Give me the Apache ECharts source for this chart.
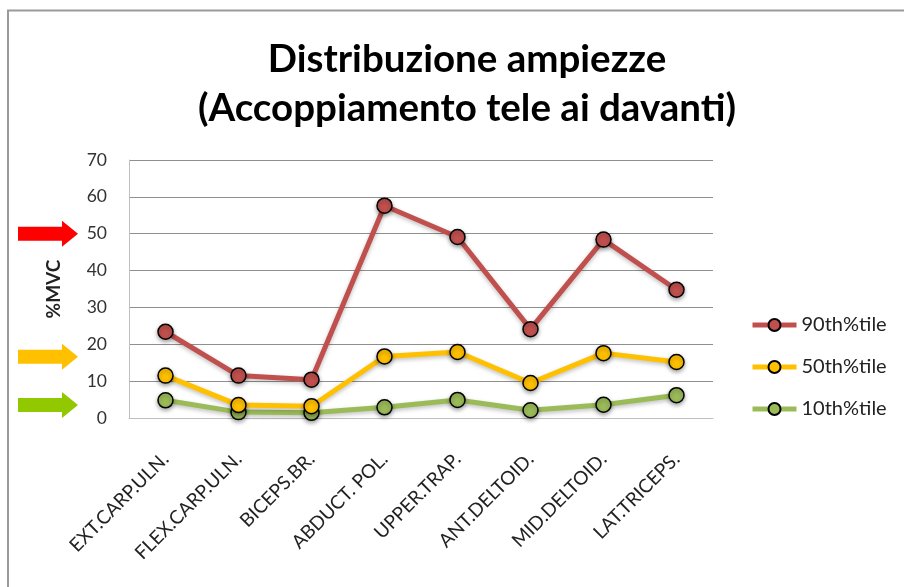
<!DOCTYPE html>
<html>
<head>
<meta charset="utf-8">
<script src="https://cdn.jsdelivr.net/npm/echarts@6/dist/echarts.min.js"></script>
<style>
  html, body { margin: 0; padding: 0; background: #fff; }
  #chart { width: 904px; height: 587px; }
</style>
</head>
<body>
<div id="chart"></div>
<script>
// Muscles along the category axis
const categories = ['EXT.CARP.ULN.', 'FLEX.CARP.ULN.', 'BICEPS.BR.', 'ABDUCT. POL.', 'UPPER.TRAP.', 'ANT.DELTOID.', 'MID.DELTOID.', 'LAT.TRICEPS.'];

// Amplitude percentiles (%MVC)
const p90 = [23.4, 11.5, 10.4, 57.6, 49.1, 24.1, 48.4, 34.8];
const p50 = [11.5, 3.5, 3.2, 16.7, 17.9, 9.5, 17.6, 15.2];
const p10 = [4.8, 1.6, 1.4, 2.9, 4.9, 2.1, 3.6, 6.2];

const yTicks = [0, 10, 20, 30, 40, 50, 60, 70];

// Reference arrows beside the value axis: level (%MVC) and colour
const arrowLevels = [50, 16.6, 3.5];
const arrowColors = ['#FF0000', '#FFC000', '#92C800'];

const seriesNames = ['90th%tile', '50th%tile', '10th%tile'];
const seriesColors = ['#C0504D', '#FFC000', '#9BBB59'];
const seriesData = [p90, p50, p10];

const font = 'Lato, "Open Sans", sans-serif';
const chart = echarts.init(document.getElementById('chart'));

const option = {
  animation: false,
  backgroundColor: '#fff',
  title: {
    text: 'Distribuzione ampiezze\n(Accoppiamento tele ai davanti)',
    left: 462,
    top: 30,
    textAlign: 'center',
    textStyle: { fontFamily: font, fontSize: 38.5, fontWeight: 'bold', color: '#000', lineHeight: 49 }
  },
  legend: {
    orient: 'vertical',
    left: 745,
    top: 310,
    itemWidth: 44,
    itemHeight: 15,
    itemGap: 22,
    lineStyle: { width: 5 },
    textStyle: { fontFamily: font, fontSize: 20, color: '#222' },
    data: seriesNames
  },
  grid: { left: 129, right: 191, top: 160, bottom: 169 },
  xAxis: {
    type: 'category',
    data: categories,
    boundaryGap: true,
    axisLine: { lineStyle: { color: '#bfbfbf', width: 1 } },
    axisTick: { show: false },
    axisLabel: { rotate: 45, margin: 38, fontFamily: font, fontSize: 19, color: '#222', interval: 0 }
  },
  yAxis: {
    type: 'value',
    min: yTicks[0],
    max: yTicks[yTicks.length - 1],
    interval: 10,
    name: '%MVC',
    nameLocation: 'middle',
    nameRotate: 90,
    nameGap: 66,
    nameTextStyle: { fontFamily: font, fontSize: 19, fontWeight: 'bold', color: '#222' },
    axisLine: { show: true, lineStyle: { color: '#bfbfbf', width: 1 } },
    axisTick: { show: false },
    axisLabel: { margin: 22, fontFamily: font, fontSize: 17.5, color: '#333' },
    splitLine: { lineStyle: { color: '#8f8f8f', width: 1.2 } }
  },
  series: seriesNames.map((name, i) => ({
    name: name,
    type: 'line',
    data: seriesData[i],
    symbol: 'circle',
    symbolSize: 15,
    z: 10 - i,
    lineStyle: { color: seriesColors[i], width: 5, shadowColor: 'rgba(0,0,0,0.25)', shadowBlur: 4, shadowOffsetY: 2 },
    itemStyle: { color: seriesColors[i], borderColor: '#000', borderWidth: 1.5, shadowColor: 'rgba(0,0,0,0.35)', shadowBlur: 4, shadowOffsetY: 2 }
  }))
};

chart.setOption(option);

// Outer frame and the arrows pointing at the value axis levels
const graphics = [{
  type: 'rect',
  shape: { x: 8, y: 10.5, width: 1000, height: 1000 },
  style: { fill: 'none', stroke: '#9a9a9a', lineWidth: 2 },
  silent: true
}];
arrowLevels.forEach((lv, i) => {
  const y = chart.convertToPixel({ yAxisIndex: 0 }, lv);
  const x0 = 18, x1 = 62, x2 = 78;
  graphics.push({
    type: 'polygon',
    shape: { points: [[x0, y - 7], [x1, y - 7], [x1, y - 13], [x2, y], [x1, y + 13], [x1, y + 7], [x0, y + 7]] },
    style: { fill: arrowColors[i] },
    silent: true
  });
});
chart.setOption({ graphic: graphics });
</script>
</body>
</html>
